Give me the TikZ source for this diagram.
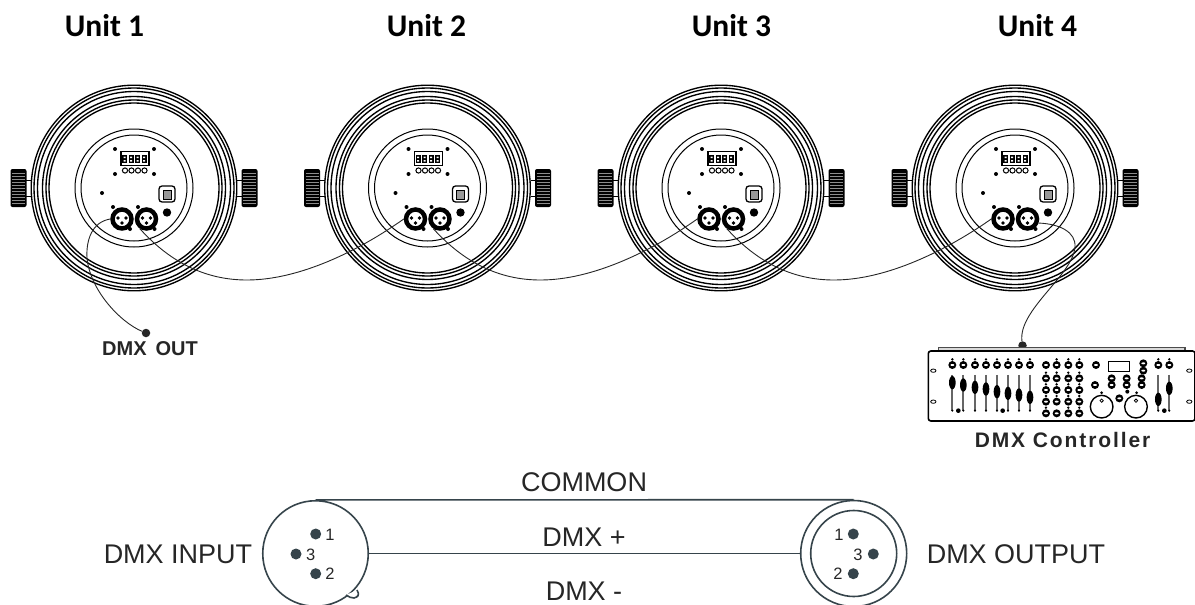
\documentclass[tikz,border=0pt]{standalone}
\usepackage{fontspec}
\setmainfont{Liberation Sans}
\newfontfamily\unitfont{Carlito}
\usetikzlibrary{shapes.geometric}
\definecolor{wireink}{HTML}{36444B}
\definecolor{textink}{HTML}{262626}

\tikzset{
  ink/.style={line width=1pt, draw=black},
  cable/.style={line width=0.9pt, draw=black!85},
  wire/.style={line width=1.6pt, draw=wireink},
  unitlabel/.style={font=\unitfont\bfseries\fontsize{31.5}{32}\selectfont, inner sep=0pt},
  dmxtext/.style={font=\fontsize{27}{28}\selectfont, text=textink, inner sep=0pt},
  pintext/.style={font=\fontsize{16.5}{17}\selectfont, text=textink, inner sep=0pt},
  xlrsocket/.style={circle, draw=black, line width=4.5pt, fill=white, minimum size=19pt, inner sep=0pt},
  pinspot/.style={circle, fill=wireink, minimum size=11pt, inner sep=0pt},
  endspot/.style={circle, fill=black!85, minimum size=8.5pt, inner sep=0pt},
  plugring/.style={circle, draw=wireink, line width=1.6pt, inner sep=0pt}
}

\begin{document}
\begin{tikzpicture}[x=1pt,y=-1pt]
  \clip (0,0) rectangle (1195,605);

  % Unit titles
  \foreach \tx/\tn in {104.5/1,426.5/2,731.5/3,1037.5/4}
    \node[unitlabel] (title\tn) at (\tx,26) {Unit \tn};

  % The four fixtures
  \foreach \ux/\un in {134/1,427.5/2,721/3,1015/4} {
    \begin{scope}[shift={(\ux,188)}]
      % housing rings
      \foreach \r in {102.8,100,96.5,91.5,88,85}
        \draw[line width=1.35pt] (0,0) circle[radius=\r];
      \draw[ink] (0,0) circle[radius=59];
      \draw[ink] (0,0) circle[radius=53];
      % side knobs
      \foreach \s in {-1,1} {
        \draw[ink] (\s*103,-8) -- (\s*108,-8) (\s*103,8) -- (\s*108,8);
        \fill[black, rounded corners=2pt] (\s*107.5,-19) rectangle (\s*123.5,19);
        \foreach \k in {-15,-12,...,15}
          \draw[black!45, line width=0.4pt] (\s*109,\k) -- (\s*122,\k);
      }
      % display
      \draw[line width=1.2pt] (-13,-36.5) rectangle (15,-22.5);
      \foreach \d in {-10,-3.5,3,9.5} {
        \fill[black] (\d-2,-33) rectangle (\d+3,-25);
        \fill[white] (\d-0.5,-31.5) rectangle (\d+1.5,-30) (\d-0.5,-28) rectangle (\d+1.5,-26.5);
      }
      \foreach \sx/\sy in {-19/-39,20/-39,-19/-14,20/-14,-32/5}
        \fill (\sx,\sy) circle[radius=2];
      \foreach \b in {-9,-2.5,4,10.5}
        \draw[line width=1pt] (\b,-17.5) circle[radius=2.6];
      % mains inlet and fan
      \draw[line width=1.3pt, rounded corners=3pt] (25,-2) rectangle (41,14);
      \draw[line width=1pt, fill=black!40] (29,2) rectangle (37,11);
      \fill[black] (33,24.5) circle[radius=4.2];
      % sockets
      \foreach \sx/\sy in {-21/19,-4/41,4/19,20.5/41}
        \fill (\sx,\sy) circle[radius=2];
      \node[xlrsocket] (xlrin\un) at (-12,31) {};
      \node[xlrsocket] (xlrout\un) at (12.5,31) {};
      \foreach \cx in {-12,12.5} {
        \fill (\cx-4,30) circle[radius=1.8];
        \fill (\cx+4,30) circle[radius=1.8];
        \fill (\cx,35) circle[radius=1.8];
      }
    \end{scope}
  }

  % Cables between the fixtures
  \foreach \fa/\fb/\fx in {1/2/0,2/3/293.5,3/4/587} {
    \begin{scope}[xshift=\fx]
      \draw[cable] (xlrout\fa.-125) .. controls (170,262) and (205,280) .. (247,280)
        .. controls (300,280) and (360,250) .. (xlrin\fb.west);
    \end{scope}
  }

  % DMX out lead
  \node[endspot] (outspot) at (146,333) {};
  \node[font=\bfseries\fontsize{20}{21}\selectfont, text=textink, inner sep=0pt] (outlabel) at (150,349) {DMX\, OUT};
  \draw[cable] (xlrin1.west) .. controls (92,222) and (86,240) .. (87,258)
    .. controls (90,290) and (120,322) .. (outspot);

  % DMX controller
  \node[endspot] (ctrlspot) at (1022.5,345.5) {};
  \draw[cable] (xlrout4.-20) .. controls (1060,224) and (1076,232) .. (1075,247)
    .. controls (1073,275) and (1018,310) .. (ctrlspot);
  \begin{scope}[shift={(910,340)},x=0.3333pt,y=-0.3333pt]
    \draw[line width=1.4pt, draw=black!70, fill=black!15] (85,22) rectangle (825,33);
    \draw[line width=1.6pt, rounded corners=2.5pt, fill=white] (55,33) rectangle (855,243);
    \foreach \ex/\ey in {70/92,70/185,838/92,838/185}
      \draw[line width=0.8pt] (\ex,\ey) ellipse (8 and 5);
    % faders
    \foreach \fx/\fy in {127/128,160/135,195/142,228/147,261/155,294/160,327/165,360/172,745/178,778/145} {
      \draw[line width=1.7pt, draw=black!60] (\fx,105) -- (\fx,212);
      \fill (\fx,\fy) ellipse (10 and 20);
      \fill (\fx,212) circle[radius=3.5];
    }
    \foreach \dx in {145,278,763}
      \fill (\dx,212) circle[radius=7];
    % small knobs
    \foreach \kx/\ky in {127/75,160/75,195/75,228/75,261/75,294/75,327/75,360/75,408/75,440/75,475/75,508/75,558/75,745/75,778/75,
      408/115,440/115,475/115,508/115,408/150,440/150,475/150,508/150,408/185,440/185,475/185,508/185,408/220,440/220,475/220,508/220,
      700/70,700/92,605/115,650/115,695/115,605/135,650/135,695/135,555/135,628/175} {
      \fill (\kx,\ky) circle[radius=12];
      \fill[white] (\kx,\ky) ellipse (6 and 3);
    }
    \foreach \kx/\ky in {127/58,160/58,195/58,228/58,261/58,294/58,327/58,360/58,440/58,475/58,508/58,745/58,778/58,
      408/98,440/98,475/98,508/98,408/133,440/133,475/133,508/133,408/168,440/168,475/168,508/168,408/203,475/203,508/203}
      \fill (\kx,\ky) circle[radius=4];
    \fill (575,158) circle[radius=4.5] (652,155) circle[radius=6] (680,158) circle[radius=4.5];
    % screen and dials
    \draw[line width=1.2pt] (595,65) rectangle (658,95);
    \foreach \kx in {575,678} {
      \draw[line width=1.4pt] (\kx,200) circle[radius=34];
      \draw[line width=0.8pt] (\kx,182) circle[radius=5];
    }
  \end{scope}
  \node[font=\bfseries\fontsize{21}{22}\selectfont\addfontfeature{LetterSpace=9}, text=textink, inner sep=0pt] (ctrllabel) at (1062.5,439.5) {DMX Controller};

  % Connector diagram
  \node[plugring, minimum size=105.5pt] (inplug) at (315.5,553.5) {};
  \node[plugring, minimum size=106pt] (outplug) at (853.7,553.5) {};
  \node[plugring, minimum size=86pt] (outring) at (853.7,553.5) {};
  \draw[wire, fill=white] (346,595) .. controls (349,597) and (351,598) .. (354,598) .. controls (358,597) and (360,595) .. (357,590);

  \draw[wire] (inplug.north) -- (outplug.north);
  \draw[wire] (inplug.east) -- (outplug.west);

  \node[pinspot] (pina1) at (315.7,534) {};
  \node[pinspot] (pina3) at (296,554) {};
  \node[pinspot] (pina2) at (315.7,573.7) {};
  \node[pintext] at (330,535) {1};
  \node[pintext] at (310.7,554.7) {3};
  \node[pintext] at (330,574) {2};
  \node[pinspot] (pinb1) at (853.3,534) {};
  \node[pinspot] (pinb3) at (873.3,554) {};
  \node[pinspot] (pinb2) at (853.3,573.7) {};
  \node[pintext] at (839,535) {1};
  \node[pintext] at (858,554.7) {3};
  \node[pintext] at (838,574) {2};

  \node[dmxtext] (inlabel) at (178,554) {DMX INPUT};
  \node[dmxtext] (outlabel2) at (1016,554) {DMX OUTPUT};
  \node[dmxtext] (common) at (584,482) {COMMON};
  \node[dmxtext] (plus) at (584,537) {DMX +};
  \node[dmxtext] (minus) at (584,591) {DMX -};
\end{tikzpicture}
\end{document}
